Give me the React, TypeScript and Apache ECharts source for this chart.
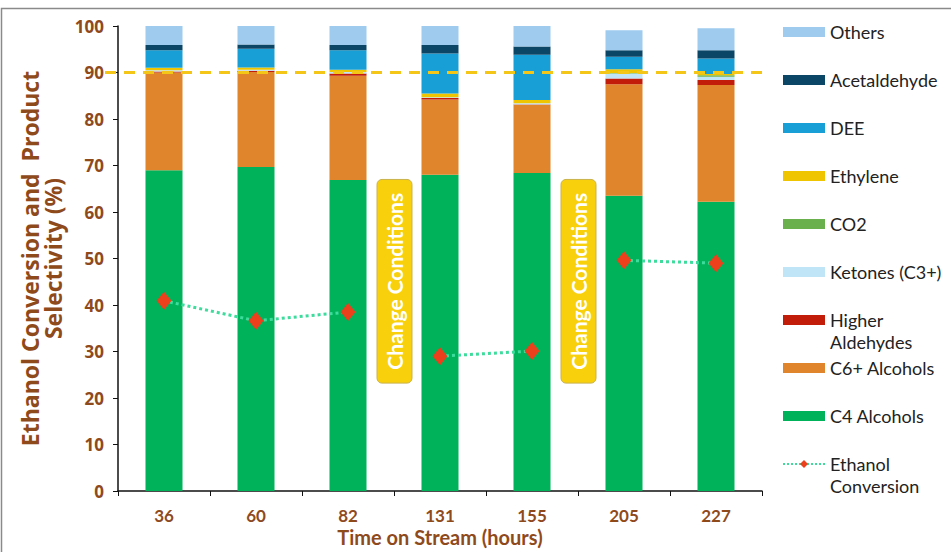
import React, { useEffect, useRef } from "react";
import * as echarts from "echarts";

const categories = ["36", "60", "82", "131", "155", "205", "227"];
const c4Alcohols = [69.0, 69.7, 66.9, 68.0, 68.4, 63.5, 62.2];
const c6Alcohols = [21.0, 20.4, 22.4, 16.2, 14.6, 24.0, 25.1];
const higherAldehydes = [0.2, 0.3, 0.5, 0.3, 0.1, 1.2, 1.1];
const ketones = [0.3, 0.2, 0.3, 0.2, 0.3, 1.1, 0.7];
const co2 = [0, 0, 0, 0, 0, 0.1, 0.3];
const ethylene = [0.5, 0.5, 0.5, 0.8, 0.7, 0.8, 0.3];
const dee = [3.8, 4.0, 4.2, 8.6, 9.7, 2.7, 3.3];
const acetaldehyde = [1.1, 0.9, 1.1, 1.8, 1.8, 1.4, 1.8];
const others = [4.1, 4.0, 4.1, 4.1, 4.4, 4.3, 4.7];
const ethanolConversion = [40.9, 36.6, 38.5, 29.0, 30.1, 49.6, 49.0];
const conversionSegments = [[0, 1, 2], [3, 4], [5, 6]];
const changeAfter = [2, 4];
const changeBoxRange = [67, 23.2];
const targetLine = 90;

const BROWN = "#8f4a1c";
const FONT = "Lato";
const WIDE = "Open Sans";

const stackSeries = [
  { name: "C4 Alcohols", data: c4Alcohols, color: "#00b25a" },
  { name: "C6+ Alcohols", data: c6Alcohols, color: "#e0852b" },
  { name: "Higher Aldehydes", data: higherAldehydes, color: "#c21d0b" },
  { name: "Ketones (C3+)", data: ketones, color: "#bfe5f6" },
  { name: "CO2", data: co2, color: "#6ab04c" },
  { name: "Ethylene", data: ethylene, color: "#efc400" },
  { name: "DEE", data: dee, color: "#18a0d6" },
  { name: "Acetaldehyde", data: acetaldehyde, color: "#0c4666" },
  { name: "Others", data: others, color: "#9ecbee" },
];

const legendOrder = [
  "Others",
  "Acetaldehyde",
  "DEE",
  "Ethylene",
  "CO2",
  "Ketones (C3+)",
  "Higher Aldehydes",
  "C6+ Alcohols",
  "C4 Alcohols",
];

export default function App() {
  const ref = useRef<HTMLDivElement>(null);
  useEffect(() => {
    if (!ref.current) return;
    const chart = echarts.init(ref.current, null, { renderer: "svg" });
    const bars = stackSeries.map((s) => ({
      name: s.name,
      type: "bar",
      stack: "total",
      barWidth: 37,
      data: s.data,
      itemStyle: { color: s.color },
      z: 2,
    }));
    const lines = conversionSegments.map((seg) => ({
      name: "Ethanol Conversion",
      type: "line",
      data: ethanolConversion.map((v, i) => (seg.includes(i) ? v : null)),
      connectNulls: false,
      symbol: "diamond",
      symbolSize: [15, 18],
      showSymbol: true,
      itemStyle: { color: "#ec3f1c" },
      lineStyle: { color: "#3ddc9c", width: 3, type: "dotted" },
      z: 5,
    }));
    const option: any = {
      animation: false,
      backgroundColor: "#ffffff",
      textStyle: { fontFamily: FONT },
      grid: {
        left: 118,
        right: 189,
        top: 26,
        bottom: 61,
        containLabel: false,
        outerBoundsMode: "none",
      },
      legend: {
        orient: "vertical",
        left: 782,
        top: -1,
        padding: 0,
        itemWidth: 42,
        itemHeight: 10,
        itemGap: -18,
        selectedMode: false,
        data: [
          ...legendOrder.map((n) => ({ name: n, icon: "rect" })),
          { name: "Ethanol Conversion" },
        ],
        formatter: (name: string) => {
          if (name === "Higher Aldehydes") return " \nHigher\nAldehydes";
          if (name === "Ethanol Conversion") return " \nEthanol\nConversion";
          return " \n" + name + "\n ";
        },
        textStyle: {
          fontFamily: FONT,
          fontSize: 18,
          lineHeight: 22,
          color: "#222222",
        },
      },
      xAxis: {
        type: "category",
        data: categories,
        boundaryGap: true,
        axisLine: { lineStyle: { color: "#111", width: 1.5 } },
        axisTick: { show: true, length: 5, alignWithLabel: false, lineStyle: { color: "#111" } },
        axisLabel: { color: BROWN, fontWeight: "bold", fontSize: 17, margin: 16, fontFamily: FONT },
        name: "Time on Stream (hours)",
        nameLocation: "middle",
        nameGap: 36,
        nameMoveOverlap: false,
        nameTextStyle: { color: BROWN, fontWeight: "bold", fontSize: 20, fontFamily: FONT },
      },
      yAxis: {
        type: "value",
        min: 0,
        max: 100,
        interval: 10,
        splitLine: { show: false },
        axisLine: { show: true, lineStyle: { color: "#111", width: 1.5 } },
        axisTick: { show: true, length: 5, lineStyle: { color: "#111" } },
        axisLabel: { color: BROWN, fontWeight: "bold", fontSize: 17, margin: 14, fontFamily: WIDE },
        name: "Ethanol Conversion and  Product\nSelectivity (%)",
        nameLocation: "middle",
        nameRotate: 90,
        nameGap: 54,
        nameMoveOverlap: false,
        nameTextStyle: {
          color: BROWN,
          fontWeight: "bold",
          fontSize: 23,
          lineHeight: 23,
          fontFamily: WIDE,
        },
      },
      series: [...bars, ...lines],
    };
    chart.setOption(option);

    const px = (i: number) => chart.convertToPixel({ xAxisIndex: 0 }, categories[i]) as number;
    const py = (v: number) => chart.convertToPixel({ yAxisIndex: 0 }, v) as number;
    const band = px(1) - px(0);
    const gridLeft = px(0) - band / 2;
    const gridRight = px(categories.length - 1) + band / 2;
    const yTop = py(changeBoxRange[0]);
    const yBot = py(changeBoxRange[1]);
    const boxes = changeAfter.map((i) => {
      const cx = (px(i) + px(i + 1)) / 2;
      return {
        type: "group",
        z: 50,
        children: [
          {
            type: "rect",
            shape: { x: cx - 17, y: yTop, width: 35, height: yBot - yTop, r: 5 },
            style: { fill: "#f8d00c", stroke: "#c9b24c", lineWidth: 1 },
          },
          {
            type: "text",
            x: cx + 0.5,
            y: (yTop + yBot) / 2,
            rotation: Math.PI / 2,
            style: {
              text: "Change Conditions",
              fill: "#ffffff",
              fontSize: 21,
              fontWeight: "bold",
              fontFamily: FONT,
              align: "center",
              verticalAlign: "middle",
            },
          },
        ],
      };
    });
    chart.setOption({
      graphic: [
        {
          type: "rect",
          z: -10,
          silent: true,
          shape: { x: 1.5, y: 8.5, width: 980, height: 600 },
          style: { fill: "none", stroke: "#8a8a8a", lineWidth: 1.5 },
        },
        {
          type: "line",
          z: 100,
          silent: true,
          shape: { x1: gridLeft - 13, y1: py(targetLine), x2: gridRight, y2: py(targetLine) },
          style: { stroke: "#f3c617", lineWidth: 3, lineDash: [11, 8] },
        },
        ...boxes,
      ],
    });
    return () => chart.dispose();
  }, []);
  return (
    <div
      ref={ref}
      style={{ position: "fixed", left: 0, top: 0, width: 951, height: 552 }}
    />
  );
}
